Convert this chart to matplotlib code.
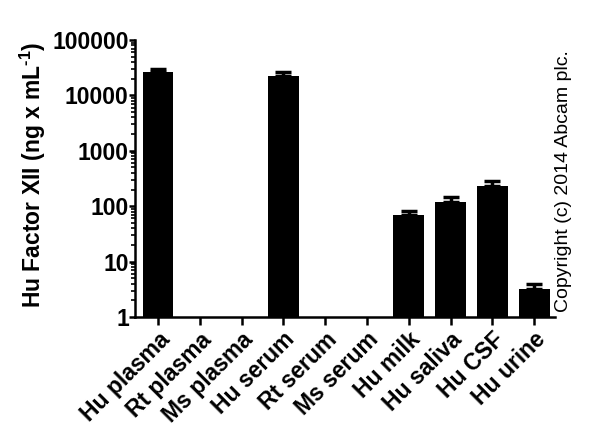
import numpy as np
import matplotlib
matplotlib.use("Agg")
import matplotlib.pyplot as plt
from matplotlib.ticker import FixedLocator, LogLocator, NullFormatter

plt.rcParams["font.family"] = ["Liberation Sans", "DejaVu Sans"]
plt.rcParams["mathtext.fontset"] = "custom"
plt.rcParams["mathtext.rm"] = "Liberation Sans"
plt.rcParams["mathtext.bf"] = "Liberation Sans:bold"

# Data (not detected samples left empty)
samples = ["Hu plasma", "Rt plasma", "Ms plasma", "Hu serum", "Rt serum",
           "Ms serum", "Hu milk", "Hu saliva", "Hu CSF", "Hu urine"]
means = [26500, np.nan, np.nan, 22500, np.nan, np.nan, 68, 118, 235, 3.15]
errors = [3000, np.nan, np.nan, 4300, np.nan, np.nan, 13, 28, 45, 0.85]
ytick_vals = [1, 10, 100, 1000, 10000, 100000]

fig = plt.figure(figsize=(6, 4.43), dpi=100)
ax = fig.add_axes([0.225, 0.2844, 0.70, 0.6253])

x = np.arange(len(samples))
ax.bar(x, means, width=0.74, color="black", zorder=2)
ax.errorbar(x, means, yerr=[np.zeros(len(errors)), errors], fmt="none",
            ecolor="black", elinewidth=2.5, capsize=5.5, capthick=2.5, zorder=1)

ax.set_yscale("log")
ax.set_ylim(1, 100000)
ax.set_xlim(-0.55, len(samples) - 0.5)

ax.yaxis.set_major_locator(FixedLocator(ytick_vals))
ax.set_yticklabels([str(v) for v in ytick_vals], fontsize=16.5, fontweight="bold")
ax.yaxis.set_minor_locator(LogLocator(base=10, subs=np.arange(2, 10)))
ax.yaxis.set_minor_formatter(NullFormatter())

ax.set_xticks(x)
ax.set_xticklabels(samples, rotation=45, ha="right", rotation_mode="anchor",
                   fontsize=16.5, fontweight="bold")

ax.set_ylabel("Hu Factor XII (ng x mL$^{\\mathbf{\u20101}}$)", fontsize=16.5,
              fontweight="bold")
ax.yaxis.set_label_coords(-0.208, 0.513)

for side in ["top", "right"]:
    ax.spines[side].set_visible(False)
for side in ["left", "bottom"]:
    ax.spines[side].set_linewidth(1.8)

ax.tick_params(axis="x", which="major", length=6, width=1.8, pad=2)
ax.tick_params(axis="y", which="major", length=4, width=1.8, pad=0.5)
ax.tick_params(axis="y", which="minor", length=3, width=1.2)

fig.text(0.94, 0.592, "Copyright (c) 2014 Abcam plc.", rotation=90,
         fontsize=14, ha="center", va="center")

fig.savefig("out.png", dpi=100)
